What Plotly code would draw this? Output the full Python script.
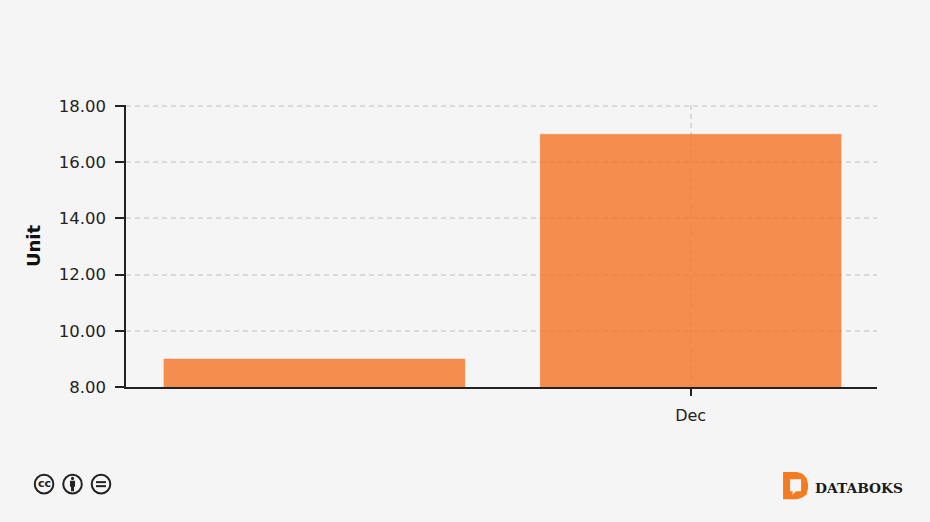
import plotly.graph_objects as go

categories = ["Nov", "Dec"]
values = [9, 17]
tick_vals = [8, 10, 12, 14, 16, 18]
tick_labels = ["8.00", "10.00", "12.00", "14.00", "16.00", "18.00"]
shown_categories = ["Dec"]

W, H = 930, 522
L, R, T, B = 125.5, 877, 105.4, 387
FONT = "DejaVu Sans"


def px(x):
    return (x - L) / (R - L)


def py(y):
    return (B - y) / (B - T)


def circle(cx, cy, r, **kw):
    return dict(type="circle", xref="paper", yref="paper",
                x0=px(cx - r), x1=px(cx + r), y0=py(cy + r), y1=py(cy - r), **kw)


def rect(x0, y0, x1, y1, color):
    return dict(type="rect", xref="paper", yref="paper", x0=px(x0), x1=px(x1),
                y0=py(y1), y1=py(y0), fillcolor=color, line_width=0)


def path(points, color):
    d = "M " + " L ".join(f"{px(x)} {py(y)}" for x, y in points) + " Z"
    return dict(type="path", xref="paper", yref="paper", path=d, fillcolor=color, line_width=0)


fig = go.Figure()
fig.add_trace(go.Bar(
    x=categories, y=values,
    width=0.8,
    marker=dict(color="rgba(245,115,37,0.8)", line=dict(color="rgba(245,115,37,0.3)", width=1)),
    hoverinfo="x+y",
))

ICON = "#222222"
ORANGE = "#F47C20"
shapes = []
# licence icons
for cx in (43.5, 72, 100.5):
    shapes.append(circle(cx, 484, 9.3, line=dict(color=ICON, width=2), fillcolor="rgba(0,0,0,0)"))
shapes.append(circle(72, 478.3, 1.6, fillcolor=ICON, line_width=0))
shapes.append(path([(69.5, 480.5), (74.5, 480.5), (74.5, 486.5), (73.5, 486.5), (73.5, 491), (70.5, 491), (70.5, 486.5), (69.5, 486.5)], ICON))
shapes.append(rect(95.5, 481, 105.5, 483, ICON))
shapes.append(rect(95.5, 485, 105.5, 487, ICON))
# logo
shapes.append(path([(783, 472), (797, 472), (803, 474), (806.5, 478), (808, 484), (808, 488), (806.5, 494), (803, 497), (797, 499), (783, 499)], ORANGE))
shapes.append(path([(790, 479), (801, 479), (801, 491), (796, 491), (792.5, 494.5), (792.5, 491), (790, 491)], "#F5F5F5"))

annotations = [
    dict(text="cc", x=px(43.5), y=py(483.5), xref="paper", yref="paper", showarrow=False,
         xanchor="center", yanchor="middle", borderpad=0,
         font=dict(family=FONT, size=11, color=ICON, weight="bold")),
    dict(text="DATABOKS", x=px(814), y=py(487.5), xref="paper", yref="paper", showarrow=False,
         xanchor="left", yanchor="middle", borderpad=0,
         font=dict(family="DejaVu Serif", size=13.8, color="#1a1a1a", weight="bold")),
]

fig.update_layout(
    width=W, height=H,
    margin=dict(l=L, r=W - R, t=T, b=H - B, pad=0),
    paper_bgcolor="#F5F5F5", plot_bgcolor="#F5F5F5",
    font=dict(family=FONT, color="#222222"),
    showlegend=False,
    shapes=shapes,
    annotations=annotations,
)
fig.update_xaxes(
    type="category", categoryorder="array", categoryarray=categories,
    range=[-0.5007, 1.4953],
    tickmode="array", tickvals=shown_categories, ticktext=shown_categories,
    ticks="outside", ticklen=7, tickcolor="#222222", tickwidth=1.5,
    tickfont=dict(size=16, family=FONT, color="#222222"),
    ticklabelstandoff=6,
    showline=True, linecolor="#222222", linewidth=1.5,
    showgrid=True, gridcolor="#DADADA", griddash="5px,4px", gridwidth=1.5,
    zeroline=False, fixedrange=True,
)
fig.update_yaxes(
    range=[8, 18.04],
    tickmode="array", tickvals=tick_vals, ticktext=tick_labels,
    ticks="outside", ticklen=9, tickcolor="#222222", tickwidth=1.5,
    tickfont=dict(size=16.5, family=FONT, color="#222222"),
    ticklabelstandoff=6,
    showline=True, linecolor="#222222", linewidth=1.5,
    showgrid=True, gridcolor="#DADADA", griddash="5px,4px", gridwidth=1.5,
    zeroline=False, fixedrange=True,
    title=dict(text="<b>Unit</b>", font=dict(size=18, family=FONT, color="#111111"), standoff=13),
)

fig.write_html(
    "out.html",
    config=dict(displayModeBar=False),
    post_script="document.body.style.margin='0';document.body.style.overflow='hidden';",
)
